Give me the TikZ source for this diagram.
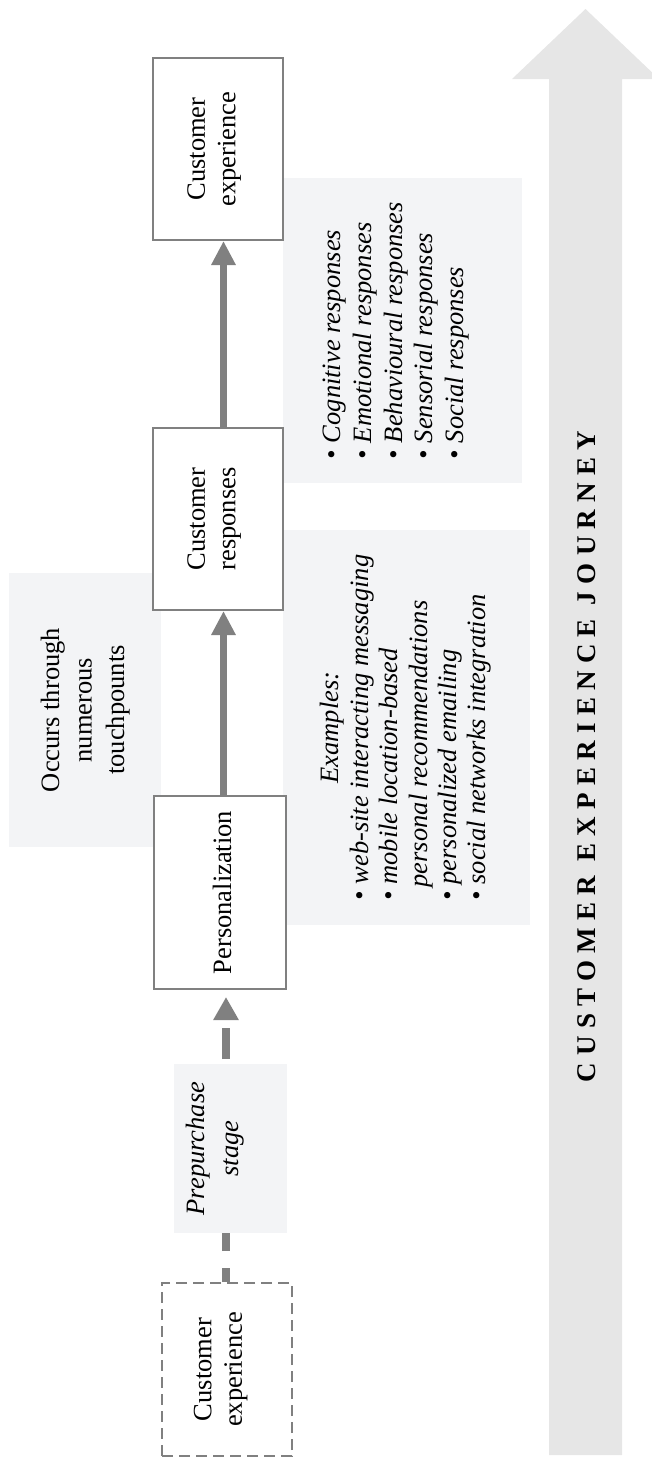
\documentclass[tikz,border=0pt]{standalone}
\usepackage{fontspec}
\setmainfont{Liberation Serif}
\newfontfamily\spacedfont[LetterSpace=27]{Liberation Serif}
\usepackage{graphicx}
\usetikzlibrary{arrows.meta}
\definecolor{boxgray}{HTML}{F3F4F6}
\definecolor{linegray}{HTML}{808080}
\definecolor{journeygray}{HTML}{E6E6E6}
\pgfdeclarelayer{back}
\pgfdeclarelayer{mid}
\pgfsetlayers{back,mid,main}
\newcommand{\rottab}[4]{\rotatebox{90}{\fontsize{26.5}{#1}\selectfont#2\begin{tabular}{@{}#3@{}}#4\end{tabular}}}
\newcommand{\journeyfont}{\spacedfont\bfseries\fontsize{27}{30}\selectfont}
\begin{document}
\begin{tikzpicture}[x=1pt,y=1pt,
  box/.style={draw=linegray,line width=2pt,fill=white,inner sep=0pt},
  dbox/.style={box,dash pattern=on 11pt off 6pt},
  gbox/.style={fill=boxgray,inner sep=0pt},
  arr/.style={draw=linegray,line width=7.5pt,-{Triangle[length=24pt,width=23pt]}},
  darr/.style={draw=linegray,line width=8pt,dash pattern=on 31pt off 17pt,dash phase=17pt,-{Triangle[length=23pt,width=24pt]}}]
\useasboundingbox (0,0) rectangle (652,-1459);
\coordinate (ax) at (223.5,0);
\coordinate (bx) at (226,0);
% main boxes
\node[box,minimum width=130pt,minimum height=182pt] (ce) at (218,-149) {\rottab{30.4}{}{c}{Customer\\experience}\kern8pt};
\node[box,minimum width=130pt,minimum height=182pt] (resp) at (218,-519) {\rottab{30.4}{}{c}{Customer\\responses}\kern8pt};
\node[box,minimum width=132pt,minimum height=193pt] (pers) at (220,-892.5) {\kern10pt\rottab{30}{}{c}{Personalization}};
\node[dbox,minimum width=130pt,minimum height=173pt] (ce0) at (227,-1369.5) {\rottab{30.4}{}{c}{Customer\\experience}\kern13pt};
% arrows
\draw[arr] (resp.north -| ax) -- (ce.south -| ax);
\draw[arr] (pers.north -| ax) -- (resp.south -| ax);
% grey boxes
\begin{pgfonlayer}{mid}
\node[gbox,minimum width=152pt,minimum height=274pt] (occ) at (85,-710) {\rottab{32.5}{}{c}{Occurs through\\numerous\\touchpounts}};
\node[gbox,minimum width=113pt,minimum height=169pt] (pre) at (230.5,-1148.5) {\rottab{34}{\itshape}{c}{Prepurchase\\stage}\kern31pt};
\node[gbox,minimum width=239pt,minimum height=305pt] (cog) at (402.5,-330.5) {\rottab{30.75}{\itshape}{l}{• Cognitive responses\\• Emotional responses\\• Behavioural responses\\• Sensorial responses\\• Social responses}\kern13pt};
\node[gbox,minimum width=247pt,minimum height=395pt] (ex) at (406.5,-727.5) {\rottab{29.4}{\itshape}{l}{\multicolumn{1}{@{}c@{}}{Examples:}\\• web-site interacting messaging\\• mobile location-based\\\hspace*{13pt}personal recommendations\\• personalized emailing\\• social networks integration}};
\end{pgfonlayer}
% background journey arrow and dashed connector
\begin{pgfonlayer}{back}
\fill[journeygray] (549,-1455) -- (549,-79) -- (512,-79) -- (585.5,-9) -- (659,-79) -- (622,-79) -- (622,-1455) -- cycle;
\node[rotate=90,font=\journeyfont,inner sep=0pt] (jt) at (586.5,-756.5) {CUSTOMER EXPERIENCE JOURNEY};
\draw[darr] (ce0.north -| bx) -- ([yshift=-7pt]pers.south -| bx);
\end{pgfonlayer}
\end{tikzpicture}
\end{document}
